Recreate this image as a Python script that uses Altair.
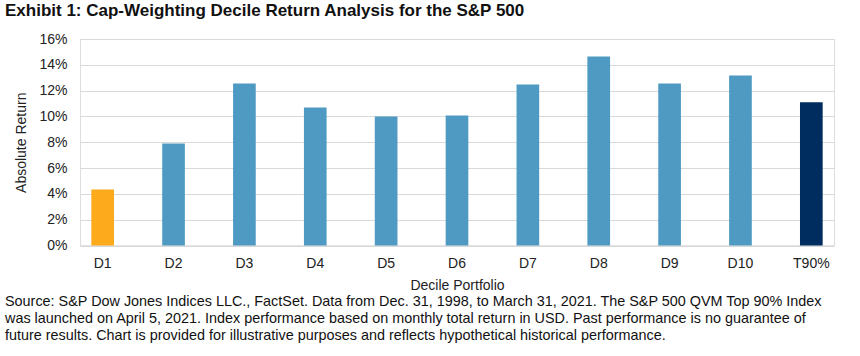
import altair as alt
import pandas as pd

categories = ["D1", "D2", "D3", "D4", "D5", "D6", "D7", "D8", "D9", "D10", "T90%"]
returns = [4.34, 7.9, 12.56, 10.7, 10.0, 10.08, 12.48, 14.65, 12.56, 13.18, 11.09]
groups = ["low", "decile", "decile", "decile", "decile", "decile", "decile", "decile", "decile", "decile", "index"]
y_ticks = [0, 2, 4, 6, 8, 10, 12, 14, 16]

footnote = [
    "Source: S&P Dow Jones Indices LLC., FactSet. Data from Dec. 31, 1998, to March 31, 2021. The S&P 500 QVM Top 90% Index",
    "was launched on April 5, 2021. Index performance based on monthly total return in USD. Past performance is no guarantee of",
    "future results. Chart is provided for illustrative purposes and reflects hypothetical historical performance.",
]

df = pd.DataFrame({"cat": categories, "ret": [v / 100 for v in returns], "grp": groups})

FONT = "Liberation Sans"

bars = alt.Chart(df).mark_bar().encode(
    x=alt.X("cat:N", sort=categories,
            scale=alt.Scale(paddingInner=0.68, paddingOuter=0.16),
            axis=alt.Axis(title="Decile Portfolio", labelAngle=0, ticks=False,
                          domainColor="#d9d9d9", labelPadding=11, titlePadding=8,
                          labelFontSize=14, titleFontSize=14, labelFont=FONT, titleFont=FONT,
                          labelColor="#222", titleColor="#222", titleFontWeight="normal")),
    y=alt.Y("ret:Q", scale=alt.Scale(domain=[0, 0.16], nice=False),
            axis=alt.Axis(title="Absolute Return", format=".0%", values=[v / 100 for v in y_ticks],
                          ticks=False, domain=False, gridColor="#d9d9d9", labelPadding=13,
                          titlePadding=10, labelFontSize=14, titleFontSize=14, labelFont=FONT,
                          titleFont=FONT, labelColor="#222", titleColor="#222",
                          titleFontWeight="normal")),
    color=alt.Color("grp:N", scale=alt.Scale(domain=["low", "decile", "index"],
                                             range=["#FDAA1D", "#4F9AC2", "#002D5F"]), legend=None),
)

note = alt.Chart(pd.DataFrame({"t": [0]})).mark_text(
    align="left", baseline="top", font=FONT, fontSize=14.4, lineHeight=17, color="#111"
).encode(x=alt.value(-75), y=alt.value(256), text=alt.value(footnote))

chart = alt.layer(bars, note).properties(
    width=754, height=206.5,
    title=alt.TitleParams("Exhibit 1: Cap-Weighting Decile Return Analysis for the S&P 500",
                          anchor="start", frame="group", dx=-75, dy=-8, font=FONT, fontSize=17,
                          fontWeight="bold", color="#111"),
    autosize=alt.AutoSizeParams(type="none"),
    padding={"left": 80, "top": 39, "right": 26, "bottom": 110.5},
).configure_view(stroke=None).configure(background="white")

chart.save("out.html", embed_options={"renderer": "svg", "actions": False})
